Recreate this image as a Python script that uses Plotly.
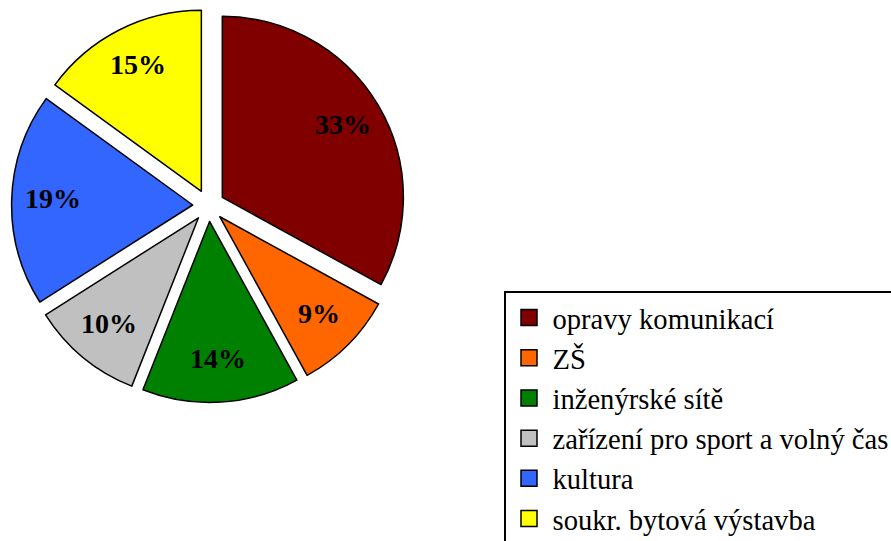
import math
import plotly.graph_objects as go

categories = ["opravy komunikací", "ZŠ", "inženýrské sítě",
              "zařízení pro sport a volný čas", "kultura", "soukr. bytová výstavba"]
values = [33, 9, 14, 10, 19, 15]
colors = ["#800000", "#FF6600", "#008000", "#C0C0C0", "#3366FF", "#FFFF00"]

W, H = 891, 541
PULL = 0.088
SERIF = "Liberation Serif, Times New Roman, serif"

# pie domain in pixels
dx0, dx1 = 11.6, 405.6
dy0, dy1 = 8.5, 402.5

fig = go.Figure(go.Pie(
    labels=categories,
    values=values,
    sort=False,
    direction="clockwise",
    rotation=0,
    pull=PULL,
    marker=dict(colors=colors, line=dict(color="black", width=1.5)),
    textinfo="none",
    domain=dict(x=[dx0 / W, dx1 / W], y=[1 - dy1 / H, 1 - dy0 / H]),
    hoverinfo="label+percent",
    showlegend=False,
))

# legend entries (square swatches) for each category
for name, col in zip(categories, colors):
    fig.add_trace(go.Scatter(
        x=[None], y=[None], mode="markers", name=name,
        marker=dict(symbol="square", size=16, color=col,
                    line=dict(color="black", width=1.5)),
        hoverinfo="skip",
    ))

# percentage labels placed along each slice's mid-angle (derived from the values)
cx = (dx0 + dx1) / 2
cy = (dy0 + dy1) / 2
r = min(dx1 - dx0, dy1 - dy0) / (2 + 2 * PULL)
total = sum(values)
cum = 0
annotations = []
for v in values:
    mid = (cum + v / 2) / total * 2 * math.pi
    cum += v
    d = 0.86 * r
    px = cx + d * math.sin(mid)
    py = cy - d * math.cos(mid)
    annotations.append(dict(
        x=px / W, y=1 - py / H, xref="paper", yref="paper",
        text=f"<b>{round(v / total * 100)}%</b>", showarrow=False,
        font=dict(family=SERIF, size=28, color="black"),
        xanchor="center", yanchor="middle", yshift=2,
    ))

fig.update_layout(
    width=W, height=H,
    margin=dict(l=0, r=0, t=0, b=0, autoexpand=False),
    paper_bgcolor="white",
    plot_bgcolor="white",
    font=dict(family=SERIF, color="black"),
    xaxis=dict(visible=False),
    yaxis=dict(visible=False),
    showlegend=True,
    annotations=annotations,
    legend=dict(
        x=504 / W, y=1 - 291 / H, xanchor="left", yanchor="top",
        bgcolor="white", bordercolor="black", borderwidth=1.5,
        font=dict(family=SERIF, size=28.6, color="black"),
        itemwidth=37,
        traceorder="normal",
    ),
)

fig.write_html("out.html", config={"displayModeBar": False},
               post_script="document.body.style.margin='0';")
